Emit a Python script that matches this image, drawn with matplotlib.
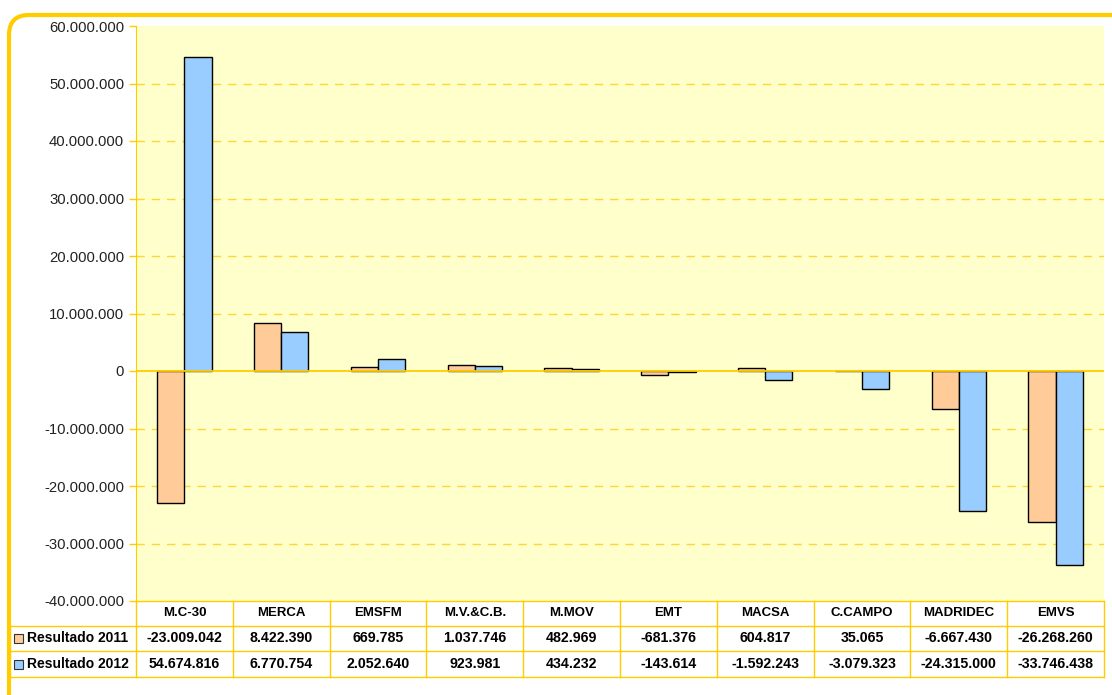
import matplotlib.pyplot as plt
import numpy as np
from matplotlib.patches import FancyBboxPatch, Rectangle
from matplotlib.transforms import IdentityTransform, blended_transform_factory
from matplotlib.ticker import FuncFormatter, MultipleLocator

plt.rcParams['font.family'] = ['Liberation Sans', 'DejaVu Sans']

categories = ['M.C-30', 'MERCA', 'EMSFM', 'M.V.&C.B.', 'M.MOV', 'EMT', 'MACSA',
              'C.CAMPO', 'MADRIDEC', 'EMVS']
res2011 = [-23009042, 8422390, 669785, 1037746, 482969, -681376, 604817,
           35065, -6667430, -26268260]
res2012 = [54674816, 6770754, 2052640, 923981, 434232, -143614, -1592243,
           -3079323, -24315000, -33746438]
series_names = ['Resultado 2011', 'Resultado 2012']

gold = '#FFCC00'
orange = '#FFCC99'
blue = '#99CCFF'


def fmt(v, pos=None):
    return '{:,.0f}'.format(v).replace(',', '.')


W, H = 1112, 695
fig = plt.figure(figsize=(W / 100, H / 100), dpi=100)
fig.patch.set_facecolor('white')

# outer rounded frame (cut off at right and bottom like the screenshot)
frame = FancyBboxPatch((9, -30), 1140, H - 15 + 30, boxstyle='round,pad=0,rounding_size=20',
                       transform=IdentityTransform(), fill=False, ec=gold, lw=3.0)
fig.patches.append(frame)

ax_l, ax_r, ax_t, ax_b = 136, 1104, 26, 601
ax = fig.add_axes([ax_l / W, 1 - ax_b / H, (ax_r - ax_l) / W, (ax_b - ax_t) / H])
ax.set_facecolor('#FFFFCC')

x = np.arange(len(categories))
bw = 0.28
for vals, col, off in [(res2011, orange, -bw / 2), (res2012, blue, bw / 2)]:
    ax.bar(x + off, vals, width=bw, color=col, edgecolor='black', linewidth=1.0, zorder=3)

ax.set_xlim(-0.5, len(categories) - 0.5)
ax.set_ylim(-40000000, 60000000)
ax.yaxis.set_major_locator(MultipleLocator(10000000))
ax.yaxis.set_major_formatter(FuncFormatter(fmt))
# dashed grid, only inside the plot (not on top edge, not on zero)
for gv in np.arange(-30000000, 60000000, 10000000):
    if gv != 0:
        ax.axhline(gv, color='#FFD633', linestyle=(0, (6, 5)), linewidth=1.0, zorder=1)
ax.axhline(0, color=gold, lw=1.3, zorder=4)
ax.set_xticks([])
for s in ['top', 'right', 'bottom']:
    ax.spines[s].set_visible(False)
ax.spines['left'].set_color(gold)
ax.tick_params(axis='y', colors=gold, length=5, width=1, labelcolor='#222222', labelsize=10.7)

# data table below the chart
tr = blended_transform_factory(ax.transData, fig.transFigure)
rows_y = [601, 626, 651, 677]


def fy(py):
    return 1 - py / H


line_kw = dict(color=gold, lw=1.0, clip_on=False)
fig.add_artist(plt.Line2D([ax_l / W, ax_r / W], [fy(601)] * 2, transform=fig.transFigure, **line_kw))
for py in rows_y[1:]:
    fig.add_artist(plt.Line2D([10 / W, ax_r / W], [fy(py)] * 2, transform=fig.transFigure, **line_kw))
for i in range(len(categories) + 1):
    fig.add_artist(plt.Line2D([i - 0.5, i - 0.5], [fy(601), fy(677)], transform=tr, **line_kw))
fig.add_artist(plt.Line2D([10 / W] * 2, [fy(626), fy(677)], transform=fig.transFigure, **line_kw))

for i, c in enumerate(categories):
    fig.text(i, fy((601 + 626) / 2), c, transform=tr, ha='center', va='center',
             fontsize=9.5, fontweight='bold')
    fig.text(i, fy((626 + 651) / 2), fmt(res2011[i]), transform=tr, ha='center', va='center',
             fontsize=10.2, fontweight='bold')
    fig.text(i, fy((651 + 677) / 2), fmt(res2012[i]), transform=tr, ha='center', va='center',
             fontsize=10.2, fontweight='bold')

for name, col, (y0, y1) in zip(series_names, [orange, blue], [(626, 651), (651, 677)]):
    yc = (y0 + y1) / 2
    fig.patches.append(Rectangle((14, H - yc - 4.5), 9, 9, transform=IdentityTransform(),
                                 fc=col, ec='#333333', lw=0.8))
    fig.text(27 / W, fy(yc), name, ha='left', va='center', fontsize=10, fontweight='bold')

fig.savefig('out.png', dpi=100)
